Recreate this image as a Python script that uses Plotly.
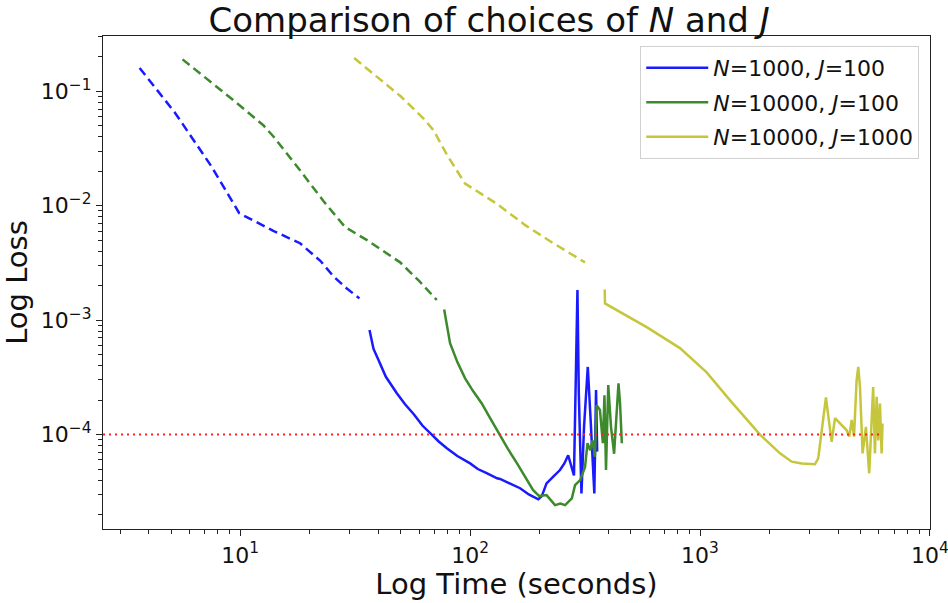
import plotly.graph_objects as go

# ---- data ----
blue_dash_t = [3.65, 5.2, 7.5, 9.9, 14.0, 18.2, 22.3, 25.5, 29.0, 33.0]
blue_dash_loss = [0.16, 0.065, 0.022, 0.0086, 0.0060, 0.0047, 0.0033, 0.0024, 0.0019, 0.00155]
blue_t = [36.5, 38.0, 39.9, 43.0, 48.0, 52.0, 57.0, 62.0, 68.1, 73.0, 79.2, 88.0, 100, 108, 118, 131, 135, 150,
          165, 180, 198, 205, 215, 230, 246, 257, 267, 283, 293, 297, 305, 313, 325, 335, 347, 353, 357]
blue_loss = [8.2e-4, 5.6e-4, 4.5e-4, 3.2e-4, 2.3e-4, 1.85e-4, 1.5e-4, 1.2e-4, 1.0e-4, 8.7e-5, 7.6e-5, 6.5e-5,
             5.6e-5, 5.0e-5, 4.6e-5, 4.15e-5, 4.1e-5, 3.7e-5, 3.4e-5, 3.0e-5, 2.72e-5, 2.9e-5, 3.75e-5, 4.3e-5,
             4.9e-5, 5.6e-5, 6.6e-5, 4.4e-5, 1.83e-3, 2.3e-4, 3.06e-5, 1.17e-4, 3.9e-4, 1.25e-4, 3.06e-5,
             2.45e-4, 7.1e-5]

green_dash_t = [5.61, 9.35, 12.6, 14.0, 18.2, 23.0, 28.6, 35.6, 49.6, 60.0, 71.6]
green_dash_loss = [0.19, 0.0834, 0.0505, 0.0399, 0.0204, 0.011, 0.0065, 0.0050, 0.0032, 0.0022, 0.0015]
green_t = [77.1, 81.8, 88.0, 95.1, 103, 112.4, 122, 134, 146, 160, 174, 188, 200, 215, 234, 247, 259, 277, 286,
           301, 316, 324, 333, 341, 349, 355, 367, 378, 384, 390, 399, 410, 423, 431, 442, 449, 457]
green_loss = [1.24e-3, 6.3e-4, 4.3e-4, 3.1e-4, 2.4e-4, 1.87e-4, 1.4e-4, 1.0e-4, 7.5e-5, 5.6e-5, 4.2e-5, 3.27e-5,
              2.9e-5, 2.96e-5, 2.42e-5, 2.5e-5, 2.42e-5, 2.77e-5, 3.62e-5, 4.0e-5, 5.2e-5, 8.4e-5, 7.3e-5,
              8.9e-5, 6.4e-5, 1.81e-4, 1.64e-4, 8.4e-5, 2.21e-4, 4.9e-5, 2.71e-4, 1.17e-4, 6.8e-5, 1.25e-4,
              2.8e-4, 1.87e-4, 8.4e-5]

yellow_dash_t = [31.3, 39.3, 50.0, 62.7, 69.3, 80.0, 95.1, 130.6, 173, 230, 316]
yellow_dash_loss = [0.195, 0.133, 0.090, 0.0578, 0.0456, 0.027, 0.0156, 0.0104, 0.0068, 0.0047, 0.0032]
yellow_t = [385, 386, 586, 818, 1069, 1349, 1824, 2228, 2505, 2770, 3162, 3268, 3530, 3737, 3866, 4064, 4345,
            4460, 4570, 4677, 4800, 4880, 4966, 5096, 5270, 5445, 5575, 5666, 5767, 5867, 5962, 6064, 6166, 6223]
yellow_loss = [1.85e-3, 1.4e-3, 8.7e-4, 5.7e-4, 3.5e-4, 2.0e-4, 1.0e-4, 6.85e-5, 5.8e-5, 5.6e-5, 5.5e-5, 6.2e-5,
               2.11e-4, 8.65e-5, 1.39e-4, 1.25e-4, 1.09e-4, 9.6e-5, 1.34e-4, 9.6e-5, 2.99e-4, 3.9e-4, 2.6e-4,
               6.85e-5, 1.17e-4, 4.58e-5, 1.09e-4, 2.6e-4, 6.85e-5, 2.14e-4, 8.9e-5, 1.87e-4, 6.85e-5, 1.25e-4]

threshold_t = [2.53, 6223]
threshold_loss = [1e-4, 1e-4]

labels = ["<i>N</i>=1000, <i>J</i>=100", "<i>N</i>=10000, <i>J</i>=100", "<i>N</i>=10000, <i>J</i>=1000"]
colors = ["#1a1aff", "#3c8a2c", "#c6c63c"]

x_tickvals = [10, 100, 1000, 10000]
x_ticktext = ["10<sup>1</sup>", "10<sup>2</sup>", "10<sup>3</sup>", "10<sup>4</sup>"]
y_tickvals = [1e-4, 1e-3, 1e-2, 1e-1]
y_ticktext = ["10<sup>\u22124</sup>", "10<sup>\u22123</sup>", "10<sup>\u22122</sup>", "10<sup>\u22121</sup>"]

x_minor = [m * 10 ** e for e in range(0, 4) for m in range(2, 10)]
y_minor = [m * 10.0 ** e for e in range(-5, 0) for m in range(2, 10)]

FONT = "DejaVu Sans"

fig = go.Figure()
series = [
    (blue_dash_t, blue_dash_loss, blue_t, blue_loss),
    (green_dash_t, green_dash_loss, green_t, green_loss),
    (yellow_dash_t, yellow_dash_loss, yellow_t, yellow_loss),
]
for i, (dt, dl, st, sl) in enumerate(series):
    fig.add_trace(go.Scatter(x=dt, y=dl, mode="lines", showlegend=False,
                             line=dict(color=colors[i], width=2.5, dash="9px,5px")))
for i, (dt, dl, st, sl) in enumerate(series):
    fig.add_trace(go.Scatter(x=st, y=sl, mode="lines", name=labels[i], legendgroup="g%d" % i,
                             line=dict(color=colors[i], width=2.5)))
fig.add_trace(go.Scatter(x=threshold_t, y=threshold_loss, mode="lines", showlegend=False,
                         line=dict(color="#ff2020", width=2, dash="2px,4px")))

axis_common = dict(showline=True, linecolor="#222", linewidth=1.2, mirror=True, ticks="outside",
                   ticklen=6, tickwidth=1.2, tickcolor="#222", showgrid=False, zeroline=False,
                   automargin=False, tickfont=dict(family=FONT, size=22, color="#111"))

fig.update_xaxes(type="log", range=[0.403, 4.0005], tickmode="array", tickvals=x_tickvals, ticktext=x_ticktext,
                 ticklabeloverflow="allow",
                 minor=dict(tickvals=x_minor, ticks="outside", ticklen=3.5, tickwidth=1, tickcolor="#222"),
                 title=dict(text="Log Time (seconds)", font=dict(family=FONT, size=29, color="#111"), standoff=4),
                 **axis_common)
fig.update_yaxes(type="log", range=[-4.825, -0.517], tickmode="array", tickvals=y_tickvals, ticktext=y_ticktext,
                 minor=dict(tickvals=y_minor, ticks="outside", ticklen=3.5, tickwidth=1, tickcolor="#222"),
                 title=dict(text="Log Loss", font=dict(family=FONT, size=29, color="#111"), standoff=6),
                 **axis_common)

fig.update_layout(
    width=948, height=603,
    margin=dict(l=103, r=18, t=36, b=74, autoexpand=False),
    plot_bgcolor="white", paper_bgcolor="white",
    title=dict(text="Comparison of choices of <i>N</i> and <i>J</i>", x=0.516, xanchor="center",
               y=0.966, yanchor="middle", font=dict(family=FONT, size=34, color="#111")),
    legend=dict(x=0.987, y=0.98, xanchor="right", yanchor="top", bgcolor="rgba(255,255,255,0.9)",
                bordercolor="#d0d0d0", borderwidth=1, font=dict(family=FONT, size=22, color="#111"),
                tracegroupgap=3, itemwidth=62),
    showlegend=True,
)

fig.write_html("out.html", config={"displayModeBar": False},
               post_script="document.body.style.margin='0';document.body.style.overflow='hidden';")
